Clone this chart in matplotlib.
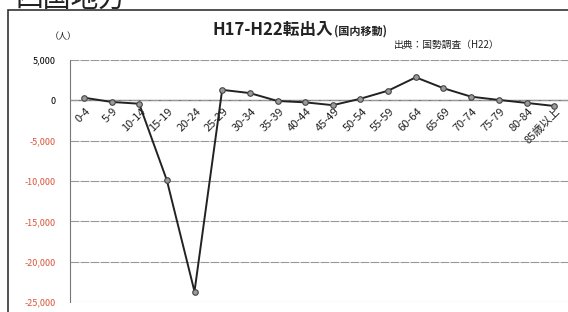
import matplotlib.pyplot as plt
import matplotlib.patches as patches

plt.rcParams['font.family'] = ['Noto Sans CJK JP', 'DejaVu Sans']

# age groups and net migration (persons), H17-H22
ages = ["0-4", "5-9", "10-14", "15-19", "20-24", "25-29", "30-34", "35-39",
        "40-44", "45-49", "50-54", "55-59", "60-64", "65-69", "70-74",
        "75-79", "80-84", "85歳以上"]
net_moves = [330, -200, -420, -9900, -23700, 1300, 900, -80,
             -250, -600, 200, 1200, 2850, 1500, 450,
             50, -320, -700]

yticks = [5000, 0, -5000, -10000, -15000, -20000, -25000]
ytick_labels = ["5,000", "0", "-5,000", "-10,000", "-15,000", "-20,000", "-25,000"]

fig = plt.figure(figsize=(5.68, 3.12), dpi=100)
ax = fig.add_axes([70/568, 10/312, 498/568, 242/312])

# outer frame of the scanned panel
frame = patches.Rectangle((8/568, -0.05), 1.2, (312-10)/312 + 0.05,
                          transform=fig.transFigure, fill=False,
                          edgecolor="#333333", linewidth=1.2)
fig.patches.append(frame)
fig.text(15/568, 1.0, "四国地方", fontsize=20, color="#222222",
         ha="left", va="center")

x = list(range(len(ages)))
ax.plot(x, net_moves, color="#222222", linewidth=1.4, marker="o",
        markersize=4, markerfacecolor="#9a9a9a", markeredgecolor="#444444",
        markeredgewidth=0.8, zorder=3)

ax.set_xlim(-0.5, len(ages) - 0.5)
ax.set_ylim(-25000, 5000)
ax.set_yticks(yticks)
ax.set_yticklabels(ytick_labels, fontsize=6.5)
for lbl, v in zip(ax.get_yticklabels(), yticks):
    lbl.set_color("black" if v >= 0 else "#d9553a")
ax.tick_params(axis="y", length=0, pad=10)
ax.set_xticks([])
ax.grid(axis="y", color="#999999", linewidth=0.8, linestyle=(0, (8, 1)))
ax.axhline(0, color="#555555", linewidth=0.9, zorder=1)
for side in ["top", "right", "bottom"]:
    ax.spines[side].set_visible(False)
ax.spines["left"].set_color("#777777")

# category labels sit just under the zero line
for i, a in enumerate(ages):
    ax.text(i + 0.3, -700, a, rotation=45, ha="right", va="top",
            fontsize=8, color="#222222")

fig.text(333/568, 1 - 30/312, "H17-H22転出入", fontsize=12, fontweight="bold",
         ha="right", va="center", color="#222222")
fig.text(334/568, 1 - 31/312, "(国内移動)", fontsize=8, fontweight="bold",
         ha="left", va="center", color="#222222")
fig.text(447/568, 1 - 45/312, "出典：国勢調査（H22）", fontsize=7,
         ha="center", va="center", color="#222222")
fig.text(63/568, 1 - 37/312, "（人）", fontsize=6.5,
         ha="center", va="center", color="#222222")

fig.savefig("out.png", dpi=100)
